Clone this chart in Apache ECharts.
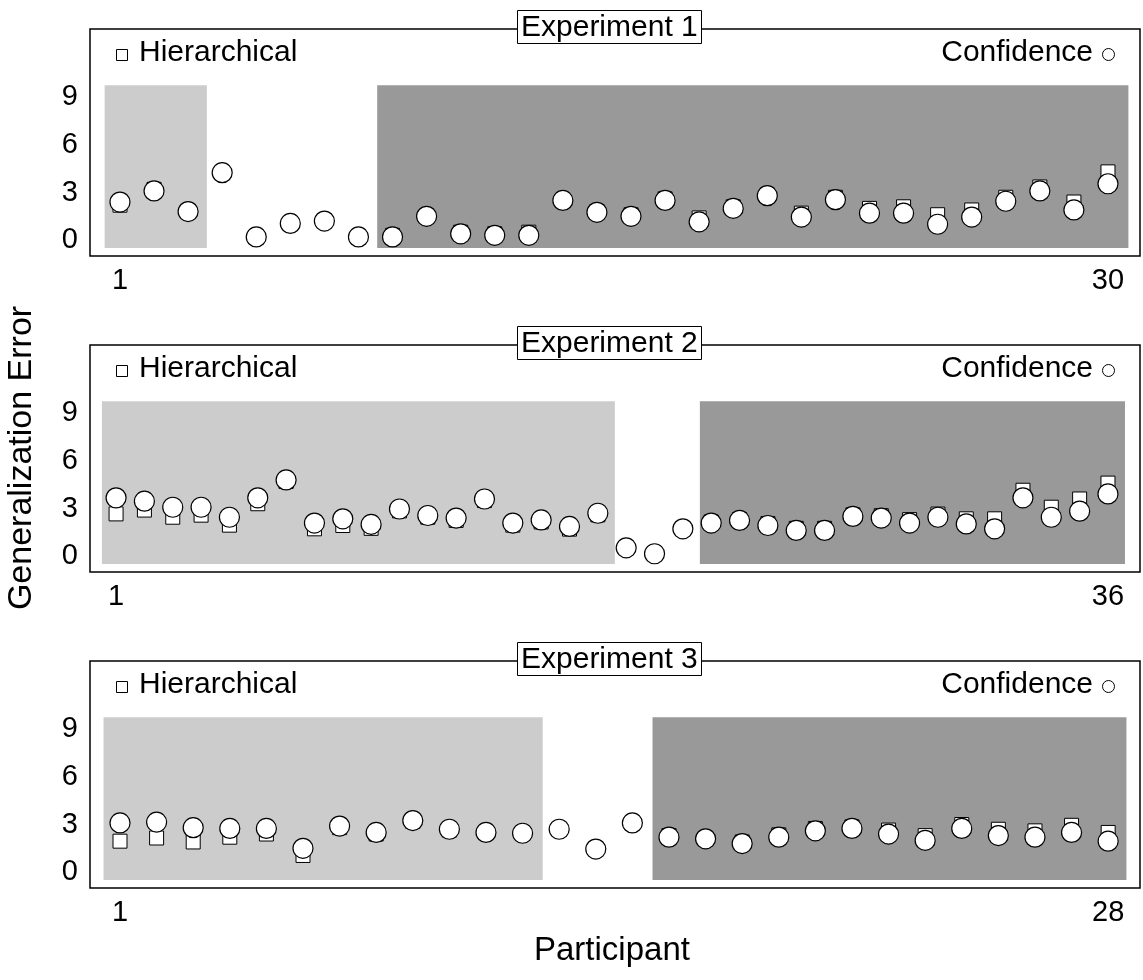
<!DOCTYPE html>
<html>
<head>
<meta charset="utf-8" />
<script src="https://cdn.jsdelivr.net/npm/echarts@6/dist/echarts.min.js"></script>
</head>
<body style="margin:0">
<div id="chart" style="width:1143px;height:980px;"></div>
<script>
// experiment 1 (30 participants)
var exp1Hier = [2.2,3.2,1.8,4.25,0.2,1.05,1.2,0.2,0.3,1.5,0.5,0.4,0.5,2.5,1.8,1.6,2.6,1.4,2.1,2.85,1.7,2.7,2.0,2.1,1.6,1.9,2.7,3.35,2.4,4.3];
var exp1Conf = [2.4,3.1,1.8,4.25,0.2,1.05,1.2,0.2,0.2,1.5,0.4,0.3,0.3,2.5,1.75,1.5,2.5,1.15,2.0,2.8,1.45,2.55,1.7,1.7,1.0,1.45,2.45,3.1,1.9,3.55];
// experiment 2 (36 participants)
var exp2Hier = [2.66,2.9,2.45,2.58,1.95,3.3,4.7,1.72,1.93,1.75,2.85,2.45,2.25,3.5,1.95,2.15,1.7,2.6,0.52,0.15,1.72,2.15,2.3,2.05,1.75,1.75,2.6,2.55,2.3,2.65,2.35,2.35,4.15,3.08,3.6,4.6];
var exp2Conf = [3.67,3.46,3.08,3.08,2.45,3.67,4.8,2.08,2.35,2.0,2.97,2.56,2.4,3.6,2.08,2.28,1.87,2.7,0.52,0.15,1.72,2.08,2.25,1.93,1.62,1.62,2.5,2.4,2.08,2.45,2.03,1.72,3.67,2.45,2.83,3.92];
// experiment 3 (28 participants)
var exp3Hier = [1.95,2.15,1.9,2.2,2.4,1.05,2.8,2.4,3.2,2.65,2.5,2.45,2.7,1.45,3.1,2.3,2.1,1.9,2.35,2.75,2.85,2.65,2.3,3.0,2.7,2.6,2.95,2.5];
var exp3Conf = [3.1,3.15,2.8,2.75,2.75,1.5,2.9,2.5,3.25,2.7,2.5,2.45,2.7,1.45,3.1,2.2,2.1,1.8,2.2,2.6,2.75,2.4,2.0,2.75,2.3,2.2,2.5,1.95];
// shaded participant ranges [light, dark]
var exp1Shade = [[0.55, 3.55], [8.55, 30.6]];
var exp2Shade = [[0.5, 18.6], [21.6, 36.6]];
var exp3Shade = [[0.55, 12.55], [15.55, 28.5]];
var yTicks = [0, 3, 6, 9];
var titles = ['Experiment 1', 'Experiment 2', 'Experiment 3'];

var panels = [
  {h: exp1Hier, c: exp1Conf, shade: exp1Shade, min: 0.12, max: 30.94, top: 29},
  {h: exp2Hier, c: exp2Conf, shade: exp2Shade, min: 0.08, max: 37.13, top: 345},
  {h: exp3Hier, c: exp3Conf, shade: exp3Shade, min: 0.18, max: 28.87, top: 661}
];

var font = 'Liberation Sans, Arial, sans-serif';
var option = {
  animation: false,
  grid: [], xAxis: [], yAxis: [], series: [], title: [], graphic: []
};

panels.forEach(function (p, i) {
  var n = p.h.length;
  option.grid.push({left: 90, right: 3, top: p.top, height: 227, show: true,
    borderColor: '#000', borderWidth: 1.5, backgroundColor: '#fff'});
  option.xAxis.push({type: 'value', gridIndex: i, min: p.min, max: p.max,
    axisLine: {show: false}, axisTick: {show: false}, splitLine: {show: false},
    axisLabel: {customValues: [1, n], color: '#000', fontSize: 29, fontFamily: font, margin: 10}});
  option.yAxis.push({type: 'value', gridIndex: i, min: -1, max: 13.3,
    axisLine: {show: false}, axisTick: {show: false}, splitLine: {show: false},
    axisLabel: {customValues: yTicks, color: '#000', fontSize: 29, fontFamily: font, margin: 12}});
  option.series.push({
    type: 'scatter', xAxisIndex: i, yAxisIndex: i, symbol: 'rect', symbolSize: 14, z: 3,
    itemStyle: {color: '#fff', borderColor: '#000', borderWidth: 1, opacity: 1},
    data: p.h.map(function (v, k) { return [k + 1, v]; }),
    markArea: {silent: true, data: [
      [{xAxis: p.shade[0][0], yAxis: -0.5, itemStyle: {color: '#cccccc', opacity: 1}}, {xAxis: p.shade[0][1], yAxis: 9.75}],
      [{xAxis: p.shade[1][0], yAxis: -0.5, itemStyle: {color: '#999999', opacity: 1}}, {xAxis: p.shade[1][1], yAxis: 9.75}]
    ]}
  });
  option.series.push({
    type: 'scatter', xAxisIndex: i, yAxisIndex: i, symbol: 'circle', symbolSize: 20, z: 4,
    itemStyle: {color: '#fff', borderColor: '#000', borderWidth: 1.2, opacity: 1},
    data: p.c.map(function (v, k) { return [k + 1, v]; })
  });
  option.title.push({text: titles[i], left: 517, top: p.top - 19,
    backgroundColor: '#fff', borderColor: '#000', borderWidth: 1, padding: [3, 4, 1, 4],
    textStyle: {fontSize: 30, fontWeight: 'normal', color: '#000', fontFamily: font}});
  var ly = p.top + 25;
  option.graphic.push(
    {type: 'rect', left: 116, top: ly - 5, shape: {width: 11, height: 11}, style: {fill: '#fff', stroke: '#000', lineWidth: 1}},
    {type: 'text', left: 139, top: ly - 16, style: {text: 'Hierarchical', fontSize: 30, fontFamily: font, fill: '#000'}},
    {type: 'text', right: 50, top: ly - 16, style: {text: 'Confidence', fontSize: 30, fontFamily: font, fill: '#000'}},
    {type: 'circle', right: 28, top: ly - 6, shape: {r: 6}, style: {fill: '#fff', stroke: '#000', lineWidth: 1}}
  );
});

option.graphic.push(
  {type: 'text', x: 22, y: 458, rotation: Math.PI / 2, style: {text: 'Generalization Error', fontSize: 34, fontFamily: font, fill: '#000', align: 'center', verticalAlign: 'middle'}},
  {type: 'text', left: 534, top: 934, style: {text: 'Participant', fontSize: 33, fontFamily: font, fill: '#000'}}
);

var chart = echarts.init(document.getElementById('chart'));
chart.setOption(option);
</script>
</body>
</html>
